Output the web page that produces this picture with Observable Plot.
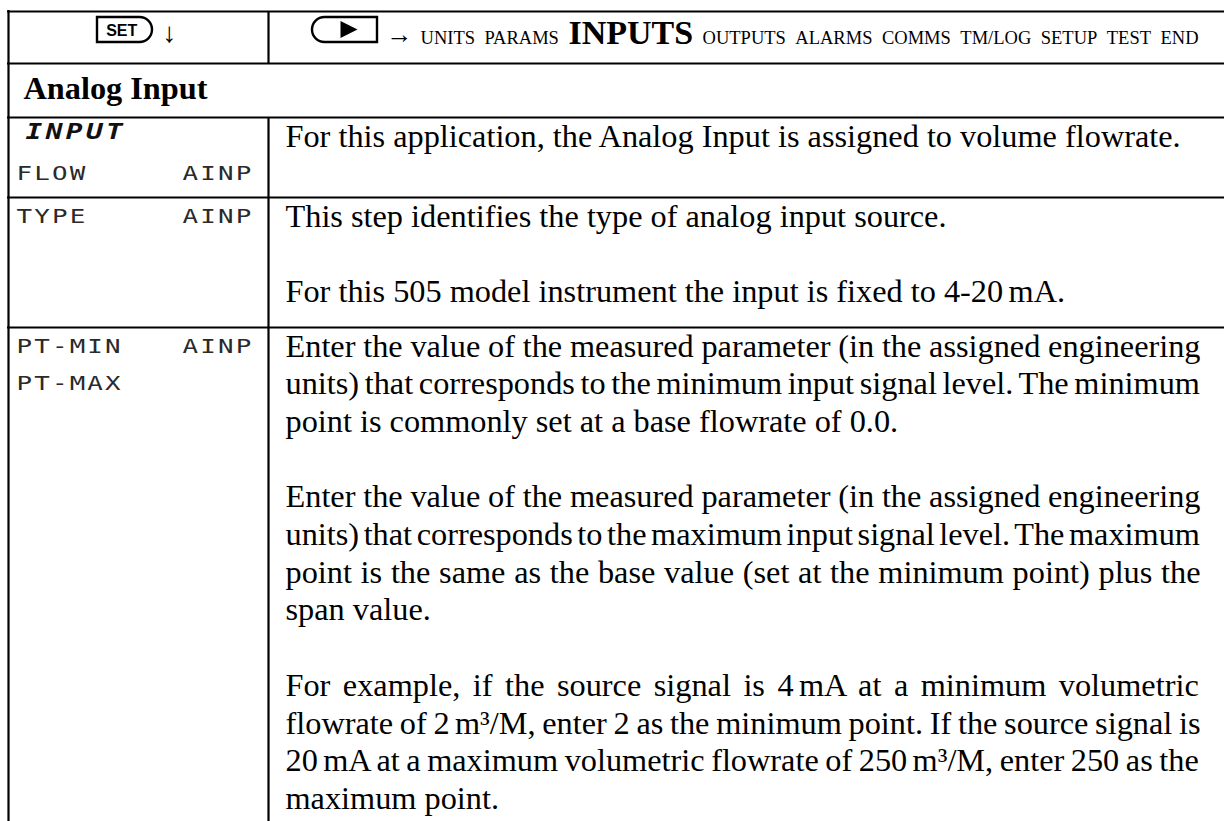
<!DOCTYPE html>
<html><head><meta charset="utf-8">
<script src="https://cdn.jsdelivr.net/npm/d3@7"></script>
<script src="https://cdn.jsdelivr.net/npm/@observablehq/plot@0.6"></script>
<style>html,body{margin:0;padding:0;background:#fff;}svg{display:block}</style>
</head><body><div id="chart"></div>
<script>
// ---------------- data ----------------
const menuSteps = ["UNITS","PARAMS","INPUTS","OUTPUTS","ALARMS","COMMS","TM/LOG","SETUP","TEST","END"];
const currentStep = "INPUTS";
const setKeyLabel = "SET";
const sectionTitle = "Analog Input";
const tableRows = ["INPUT","TYPE","PT"];
const lcdLeft = [
  {row:"INPUT", slot:0, text:"INPUT", seg7:true},
  {row:"INPUT", slot:1, text:"FLOW"},
  {row:"TYPE",  slot:0, text:"TYPE"},
  {row:"PT",    slot:0, text:"PT-MIN"},
  {row:"PT",    slot:1, text:"PT-MAX"}
];
const lcdRight = [
  {row:"INPUT", slot:1, text:"AINP"},
  {row:"TYPE",  slot:0, text:"AINP"},
  {row:"PT",    slot:0, text:"AINP"}
];
const inputDesc = [
  ["For this application, the Analog Input is assigned to volume flowrate."]
];
const typeDesc = [
  ["This step identifies the type of analog input source."],
  ["For this 505 model instrument the input is fixed to 4-20\u2006mA."]
];
const ptDesc = [
  ["Enter the value of the measured parameter (in the assigned engineering",
   "units) that corresponds to the minimum input signal level. The minimum",
   "point is commonly set at a base flowrate of 0.0."],
  ["Enter the value of the measured parameter (in the assigned engineering",
   "units) that corresponds to the maximum input signal level. The maximum",
   "point is the same as the base value (set at the minimum point) plus the",
   "span value."],
  ["For example, if the source signal is 4\u2006mA at a minimum volumetric",
   "flowrate of 2\u2006m\u00B3/M, enter 2 as the minimum point. If the source signal is",
   "20\u2006mA at a maximum volumetric flowrate of 250\u2006m\u00B3/M, enter 250 as the",
   "maximum point."]
];

// ---------------- layout ----------------
const W = 1224, H = 821;
const LAY = {
  left: 8, right: 1224, divider: 268,
  bounds: {header: 11, title: 63, INPUT: 117, TYPE: 197, PT: 327, end: 821},
  textX: 285, textR: 1200,
  lcdX: 16, lcdRX: 182, seg7X: 25,
  step: 37.7, first: 29,
  headerBase: 43, titleBase: 98, titleX: 23,
  wordsEnd: 1198, wordGap: 9.5
};
const SERIF = "'Liberation Serif','Times New Roman',serif";
const MONO = "'DejaVu Sans Mono','Liberation Mono',monospace";
const BODY = 32.3, SMALL = 18.5, BIG = 34;

const ctx = document.createElement("canvas").getContext("2d");
const tw = (t, f) => { ctx.font = f; return ctx.measureText(t).width; };
const baseline = (row, slot) => LAY.bounds[row] + LAY.first + slot * LAY.step;

// body lines with slot indices (one blank slot between paragraphs)
const descByRow = {INPUT: inputDesc, TYPE: typeDesc, PT: ptDesc};
const bodyLines = [];
for (const row of tableRows) {
  let slot = 0;
  descByRow[row].forEach(para => {
    para.forEach((line, li) => {
      bodyLines.push({row, slot, text: line, justify: li < para.length - 1});
      slot++;
    });
    slot++;
  });
}
const bodyFont = `${BODY}px "Liberation Serif"`;
const wordSpacing = new Map();
for (const d of bodyLines) if (d.justify) {
  const nat = tw(d.text, bodyFont);
  const n = (d.text.match(/ /g) || []).length;
  wordSpacing.set(d.text, (LAY.textR - LAY.textX - nat) / n);
}

// header words, laid out right-to-left from the END word
const hdr = menuSteps.map(s => ({text: s, big: s === currentStep}));
hdr.forEach(d => d.w = tw(d.text, d.big ? `bold ${BIG}px "Liberation Serif"` : `${SMALL}px "Liberation Serif"`));
const total = d3.sum(hdr, d => d.w) + LAY.wordGap * (hdr.length - 1);
let cx = LAY.wordsEnd - total;
hdr.forEach(d => { d.x = cx; cx += d.w + LAY.wordGap; });
const wordsStart = hdr[0].x;

// rules
const hRules = ["header","title","INPUT","TYPE","PT"].map(k => LAY.bounds[k]);
const vRules = [
  {x: LAY.left, y1: LAY.bounds.header - 1, y2: H},
  {x: LAY.divider, y1: LAY.bounds.header, y2: LAY.bounds.title},
  {x: LAY.divider, y1: LAY.bounds.INPUT, y2: H}
];

// keys
const keyY1 = 17, keyY2 = 42, keyR = 12.5;
const setKey = {x1: 97, x2: 152};
const playKey = {x1: 312, x2: 377};
function keysMark(index, scales) {
  const sx = scales && typeof scales.x === "function" ? scales.x : v => v;
  const sy = scales && typeof scales.y === "function" ? scales.y : v => v;
  const g = d3.create("svg:g");
  const cy = (keyY1 + keyY2) / 2;
  const p1 = d3.path();
  p1.moveTo(sx(setKey.x1), sy(keyY1));
  p1.lineTo(sx(setKey.x2 - keyR), sy(keyY1));
  p1.arc(sx(setKey.x2 - keyR), sy(cy), keyR, -Math.PI / 2, Math.PI / 2);
  p1.lineTo(sx(setKey.x1), sy(keyY2));
  p1.closePath();
  g.append("path").attr("d", p1.toString()).attr("fill", "none").attr("stroke", "#000").attr("stroke-width", 2.4);
  const p2 = d3.path();
  p2.moveTo(sx(playKey.x2), sy(keyY1));
  p2.lineTo(sx(playKey.x1 + keyR), sy(keyY1));
  p2.arc(sx(playKey.x1 + keyR), sy(cy), keyR, -Math.PI / 2, Math.PI / 2, true);
  p2.lineTo(sx(playKey.x2), sy(keyY2));
  p2.closePath();
  g.append("path").attr("d", p2.toString()).attr("fill", "none").attr("stroke", "#000").attr("stroke-width", 2.4);
  const cxp = (playKey.x1 + playKey.x2) / 2 + 4;
  const tri = d3.path();
  tri.moveTo(sx(cxp - 8), sy(cy - 8.5));
  tri.lineTo(sx(cxp + 9), sy(cy));
  tri.lineTo(sx(cxp - 8), sy(cy + 8.5));
  tri.closePath();
  g.append("path").attr("d", tri.toString()).attr("fill", "#000");
  return g.node();
}

const arrowFont = 26;
const arrowW = tw("\u2192", `${arrowFont}px "Liberation Serif"`);

const chart = Plot.plot({
  width: W, height: H,
  margin: 0,
  x: {type: "linear", domain: [0, W], range: [0, W], axis: null},
  y: {type: "linear", domain: [0, H], range: [0, H], axis: null},
  style: {background: "#fff"},
  marks: [
    Plot.ruleY(hRules, {y: d => d, x1: LAY.left - 1, x2: LAY.right, stroke: "#000", strokeWidth: 2.2}),
    Plot.ruleX(vRules, {x: "x", y1: "y1", y2: "y2", stroke: "#000", strokeWidth: 2.2}),
    keysMark,
    Plot.text([setKeyLabel], {x: (setKey.x1 + setKey.x2 - keyR) / 2 + 3, y: (keyY1 + keyY2) / 2 + 0.5, text: d => d,
      fontFamily: "'Liberation Sans',Arial,sans-serif", fontWeight: "bold", fontSize: 16, fill: "#000"}),
    Plot.text(["\u2193"], {x: setKey.x2 + 17, y: LAY.headerBase - 2, text: d => d, fontFamily: SERIF, fontSize: 28,
      lineAnchor: "bottom", fill: "#000"}),
    Plot.text(["\u2192"], {x: wordsStart - 8 - arrowW / 2, y: LAY.headerBase - 1, text: d => d, fontFamily: SERIF,
      fontSize: arrowFont, lineAnchor: "bottom", fill: "#000"}),
    Plot.text(hdr.filter(d => !d.big), {x: "x", y: LAY.headerBase, text: "text", textAnchor: "start", lineAnchor: "bottom",
      fontFamily: SERIF, fontSize: SMALL, fill: "#000"}),
    Plot.text(hdr.filter(d => d.big), {x: "x", y: LAY.headerBase, text: "text", textAnchor: "start", lineAnchor: "bottom",
      fontFamily: SERIF, fontSize: BIG, fontWeight: "bold", fill: "#000"}),
    Plot.text([sectionTitle], {x: LAY.titleX, y: LAY.titleBase, text: d => d, textAnchor: "start", lineAnchor: "bottom",
      fontFamily: SERIF, fontSize: BODY, fontWeight: "bold", fill: "#000"}),
    Plot.text(bodyLines, {x: LAY.textX, y: d => baseline(d.row, d.slot), text: "text", textAnchor: "start",
      lineAnchor: "bottom", fontFamily: SERIF, fontSize: BODY, fill: "#000"}),
    Plot.text(lcdLeft.filter(d => !d.seg7), {x: LAY.lcdX, y: d => baseline(d.row, d.slot) - 10, text: "text",
      textAnchor: "start", fontFamily: MONO, fontSize: 19, fill: "#2a2a2a"}),
    Plot.text(lcdRight, {x: LAY.lcdRX, y: d => baseline(d.row, d.slot) - 10, text: "text",
      textAnchor: "start", fontFamily: MONO, fontSize: 19, fill: "#2a2a2a"}),
    Plot.text(lcdLeft.filter(d => d.seg7), {x: LAY.seg7X, y: d => baseline(d.row, d.slot) - 14, text: "text",
      textAnchor: "start", fontFamily: MONO, fontSize: 21, fontWeight: "bold", fontStyle: "italic", fill: "#111"})
  ]
});

// styling applied after rendering: justification and LCD glyph width
const lcdTexts = new Set([...lcdLeft.filter(d => !d.seg7), ...lcdRight].map(d => d.text));
const seg7Texts = new Set(lcdLeft.filter(d => d.seg7).map(d => d.text));
d3.select(chart).selectAll("text").each(function () {
  const t = this.textContent;
  const tr = this.getAttribute("transform") || "";
  if (wordSpacing.has(t)) this.style.wordSpacing = wordSpacing.get(t) + "px";
  else if (lcdTexts.has(t)) {
    this.style.letterSpacing = "1.6px";
    this.setAttribute("transform", tr + " scale(1.36,1)");
  } else if (seg7Texts.has(t)) {
    this.style.letterSpacing = "2.5px";
    this.setAttribute("transform", tr + " scale(1.33,1)");
  }
});
document.getElementById("chart").appendChild(chart);
</script>
</body></html>
